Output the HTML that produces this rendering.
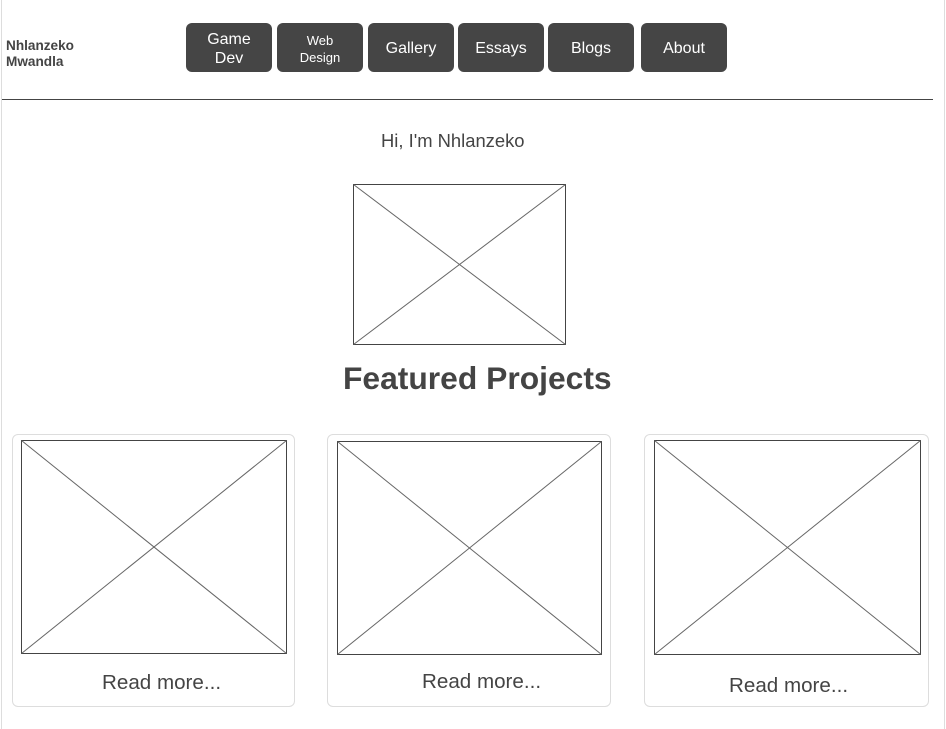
<!DOCTYPE html>
<html><head><meta charset="utf-8"><style>
body{margin:0;width:946px;height:729px;background:#fff;position:relative;overflow:hidden;font-family:"Liberation Sans",sans-serif;color:#444}
.a{position:absolute}
.btn{position:absolute;top:23px;width:86px;height:49px;background:#454545;border-radius:6px;color:#fff;display:flex;align-items:center;justify-content:center;text-align:center;font-size:16px;line-height:19px;padding-top:2px;box-sizing:border-box}
.card{position:absolute;top:434px;height:273px;border:1px solid #ddd;border-radius:6px;box-sizing:border-box}
.rm{position:absolute;font-size:20.6px;color:#444;white-space:nowrap}
</style></head><body>
<div class="a" style="left:1px;top:0;width:1px;height:729px;background:#ddd"></div>
<div class="a" style="left:944px;top:0;width:1px;height:729px;background:#ddd"></div>
<div class="a" style="left:6px;top:38px;font-size:13.6px;font-weight:bold;line-height:16px">Nhlanzeko<br>Mwandla</div>
<div class="btn" style="left:186px">Game<br>Dev</div>
<div class="btn" style="left:277px;font-size:13px;line-height:17px">Web<br>Design</div>
<div class="btn" style="left:368px">Gallery</div>
<div class="btn" style="left:458px">Essays</div>
<div class="btn" style="left:548px">Blogs</div>
<div class="btn" style="left:641px">About</div>
<div class="a" style="left:2px;top:99px;width:931px;height:1px;background:#444"></div>
<div class="a" style="left:381px;top:130px;font-size:18.4px">Hi, I'm Nhlanzeko</div>
<div class="a" style="left:343px;top:360px;font-size:31.8px;font-weight:bold">Featured Projects</div>
<div class="card" style="left:12px;width:283px"></div>
<div class="card" style="left:327px;width:284px"></div>
<div class="card" style="left:644px;width:285px"></div>
<div class="rm" style="left:102px;top:671px">Read more...</div>
<div class="rm" style="left:422px;top:670px">Read more...</div>
<div class="rm" style="left:729px;top:674px">Read more...</div>
<svg class="a" style="left:0;top:0" width="946" height="729">
<g fill="none" stroke="#444" stroke-width="1">
<rect x="353.5" y="184.5" width="212" height="160"/>
<line x1="353.5" y1="184.5" x2="565.5" y2="344.5" stroke="#666"/><line x1="565.5" y1="184.5" x2="353.5" y2="344.5" stroke="#666"/>
<rect x="21.5" y="440.5" width="265" height="213"/>
<line x1="21.5" y1="440.5" x2="286.5" y2="653.5" stroke="#666"/><line x1="286.5" y1="440.5" x2="21.5" y2="653.5" stroke="#666"/>
<rect x="337.5" y="441.5" width="264" height="213"/>
<line x1="337.5" y1="441.5" x2="601.5" y2="654.5" stroke="#666"/><line x1="601.5" y1="441.5" x2="337.5" y2="654.5" stroke="#666"/>
<rect x="654.5" y="440.5" width="266" height="214"/>
<line x1="654.5" y1="440.5" x2="920.5" y2="654.5" stroke="#666"/><line x1="920.5" y1="440.5" x2="654.5" y2="654.5" stroke="#666"/>
</g></svg>
</body></html>
